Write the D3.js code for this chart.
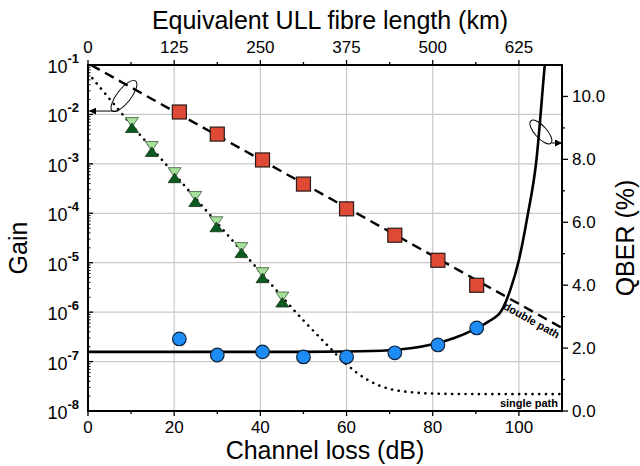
<!DOCTYPE html>
<html>
<head>
<meta charset="utf-8">
<script src="https://cdn.jsdelivr.net/npm/d3@7"></script>
<style>
  body { margin: 0; background: #fff; }
  svg text { font-family: "Liberation Sans", Arial, sans-serif; fill: #000; }
</style>
</head>
<body>
<div id="chart"></div>
<script>
// measured points (same channel losses for double path gain and QBER)
const lossDb = [21.2, 30, 40.5, 50, 60, 71.2, 81.2, 90.2];
const gainDouble = [1.12e-2, 4.0e-3, 1.2e-3, 3.9e-4, 1.23e-4, 3.6e-5, 1.12e-5, 3.5e-6];
const qberMeas = [2.29, 1.78, 1.88, 1.72, 1.72, 1.85, 2.10, 2.64];

const lossSingle = [10.2, 14.8, 20.1, 24.9, 29.8, 35.6, 40.5, 45.1];
const gainSingle = [6.1e-3, 2.0e-3, 5.9e-4, 1.94e-4, 6.0e-5, 1.8e-5, 5.6e-6, 1.8e-6];

// model curves
const doubleFitLoss = [0.7, 110];
const doubleFitGain = [1e-1, 4.8e-7];
const singleFitLoss = [0, 10, 20, 30, 40, 50, 55, 60, 65, 70, 75, 80, 90, 110];
const singleFitGain = [0.069, 6.3e-3, 6.3e-4, 6.3e-5, 6.5e-6, 6.8e-7, 2.4e-7, 8.8e-8, 4.2e-8, 2.8e-8, 2.4e-8, 2.25e-8, 2.2e-8, 2.2e-8];
const qberFitLoss = [0, 50, 60, 70, 80, 85, 90, 93, 96, 98, 100, 102, 104, 106, 107];
const qberFit = [1.88, 1.88, 1.89, 1.93, 2.12, 2.32, 2.62, 2.85, 3.2, 3.85, 4.8, 6.2, 7.9, 11, 12.5];

// ticks
const lossTicks = [0, 20, 40, 60, 80, 100];
const lossMinor = [10, 30, 50, 70, 90];
const kmTicks = [0, 125, 250, 375, 500, 625];
const kmMinor = [62.5, 187.5, 312.5, 437.5, 562.5];
const gainExps = [-8, -7, -6, -5, -4, -3, -2, -1];
const qberTicks = [0, 2, 4, 6, 8, 10];
const qberMinor = [1, 3, 5, 7, 9];

const width = 640, height = 466;
const margin = { top: 65, right: 78, bottom: 55, left: 88 };

const svg = d3.select("#chart").append("svg")
    .attr("width", width)
    .attr("height", height);

const x = d3.scaleLinear().domain([0, 110]).range([margin.left, width - margin.right]);
const xTop = d3.scaleLinear().domain([0, 110 * 6.25]).range([margin.left, width - margin.right]);
const y = d3.scaleLog().domain([1e-8, 1e-1]).range([height - margin.bottom, margin.top]);
const yR = d3.scaleLinear().domain([0, 11]).range([height - margin.bottom, margin.top]);

const x0 = margin.left, x1 = width - margin.right, y0 = height - margin.bottom, y1 = margin.top;

svg.append("defs").append("clipPath").attr("id", "plot")
    .append("rect").attr("x", x0).attr("y", y1).attr("width", x1 - x0).attr("height", y0 - y1);

const defs = svg.select("defs");
defs.append("marker").attr("id", "arrow")
    .attr("viewBox", "0 0 10 10").attr("refX", 10).attr("refY", 5)
    .attr("markerWidth", 9).attr("markerHeight", 7).attr("orient", "auto")
    .attr("markerUnits", "userSpaceOnUse")
    .append("path").attr("d", "M0,0L10,5L0,10z").attr("fill", "#000");

// grid
const grid = svg.append("g").attr("stroke", "#c8c8c8").attr("stroke-width", 1.2);
grid.selectAll("line.v").data(lossTicks.slice(1)).enter().append("line")
    .attr("x1", d => x(d)).attr("x2", d => x(d)).attr("y1", y0).attr("y2", y1);
grid.selectAll("line.h").data(gainExps.slice(1, -1)).enter().append("line")
    .attr("y1", d => y(Math.pow(10, d))).attr("y2", d => y(Math.pow(10, d)))
    .attr("x1", x0).attr("x2", x1);

// lines
const plot = svg.append("g").attr("clip-path", "url(#plot)");

const gainLine = d3.line().x(d => x(d[0])).y(d => y(d[1]));
plot.append("path")
    .datum(doubleFitLoss.map((d, i) => [d, doubleFitGain[i]]))
    .attr("d", gainLine)
    .attr("fill", "none").attr("stroke", "#000").attr("stroke-width", 2.4)
    .attr("stroke-dasharray", "10,6");

plot.append("path")
    .datum(singleFitLoss.map((d, i) => [d, singleFitGain[i]]))
    .attr("d", gainLine.curve(d3.curveMonotoneX))
    .attr("fill", "none").attr("stroke", "#000").attr("stroke-width", 2.6)
    .attr("stroke-linecap", "round")
    .attr("stroke-dasharray", "0.1,6.6");

plot.append("path")
    .datum(qberFitLoss.map((d, i) => [d, qberFit[i]]))
    .attr("d", d3.line().x(d => x(d[0])).y(d => yR(d[1])).curve(d3.curveMonotoneX))
    .attr("fill", "none").attr("stroke", "#000").attr("stroke-width", 2.6);

// single path markers: hourglass of two triangles
const single = lossSingle.map((d, i) => [d, gainSingle[i]]);
const tri = svg.append("g");
tri.selectAll("path.down").data(single).enter().append("path")
    .attr("d", d => {
        const cx = x(d[0]), cy = y(d[1]);
        return `M${cx - 6.5},${cy - 7.5}L${cx + 6.5},${cy - 7.5}L${cx},${cy + 2}Z`;
    })
    .attr("fill", "#a6e09a").attr("stroke", "#3c5a3c").attr("stroke-width", 0.8);
tri.selectAll("path.up").data(single).enter().append("path")
    .attr("d", d => {
        const cx = x(d[0]), cy = y(d[1]);
        return `M${cx - 6.5},${cy + 7.5}L${cx + 6.5},${cy + 7.5}L${cx},${cy - 2}Z`;
    })
    .attr("fill", "#0b5a20").attr("stroke", "#1a331a").attr("stroke-width", 0.8);

// double path markers
svg.append("g").selectAll("rect").data(lossDb).enter().append("rect")
    .attr("x", d => x(d) - 7).attr("y", (d, i) => y(gainDouble[i]) - 7)
    .attr("width", 14).attr("height", 14)
    .attr("fill", "#de4a36").attr("stroke", "#2a1a18").attr("stroke-width", 1.2);

// QBER markers
svg.append("g").selectAll("circle").data(lossDb).enter().append("circle")
    .attr("cx", d => x(d)).attr("cy", (d, i) => yR(qberMeas[i]))
    .attr("r", 6.8)
    .attr("fill", "#1e8cf5").attr("stroke", "#10243a").attr("stroke-width", 1.2);

// frame
svg.append("rect").attr("x", x0).attr("y", y1).attr("width", x1 - x0).attr("height", y0 - y1)
    .attr("fill", "none").attr("stroke", "#000").attr("stroke-width", 2);

const ticks = svg.append("g").attr("stroke", "#000").attr("stroke-width", 1.3);
// bottom
ticks.selectAll("line.b").data(lossTicks).enter().append("line")
    .attr("x1", d => x(d)).attr("x2", d => x(d)).attr("y1", y0).attr("y2", y0 + 5);
ticks.selectAll("line.bm").data(lossMinor).enter().append("line")
    .attr("x1", d => x(d)).attr("x2", d => x(d)).attr("y1", y0).attr("y2", y0 + 3);
// top
ticks.selectAll("line.t").data(kmTicks).enter().append("line")
    .attr("x1", d => xTop(d)).attr("x2", d => xTop(d)).attr("y1", y1).attr("y2", y1 - 5);
ticks.selectAll("line.tm").data(kmMinor).enter().append("line")
    .attr("x1", d => xTop(d)).attr("x2", d => xTop(d)).attr("y1", y1).attr("y2", y1 - 3);
// right
ticks.selectAll("line.r").data(qberTicks).enter().append("line")
    .attr("y1", d => yR(d)).attr("y2", d => yR(d)).attr("x1", x1).attr("x2", x1 + 6);
ticks.selectAll("line.rm").data(qberMinor).enter().append("line")
    .attr("y1", d => yR(d)).attr("y2", d => yR(d)).attr("x1", x1).attr("x2", x1 + 3);
// left (inside)
ticks.selectAll("line.l").data(gainExps).enter().append("line")
    .attr("y1", d => y(Math.pow(10, d))).attr("y2", d => y(Math.pow(10, d)))
    .attr("x1", x0).attr("x2", x0 + 5);
const minorGain = [];
gainExps.slice(0, -1).forEach(e => { for (let k = 2; k < 10; k++) minorGain.push(k * Math.pow(10, e)); });
ticks.selectAll("line.lm").data(minorGain).enter().append("line")
    .attr("y1", d => y(d)).attr("y2", d => y(d))
    .attr("x1", x0).attr("x2", x0 + 2.5).attr("stroke-width", 1);

// tick labels
svg.append("g").selectAll("text").data(lossTicks).enter().append("text")
    .attr("x", d => x(d)).attr("y", y0 + 22).attr("text-anchor", "middle")
    .attr("font-size", 17).text(d => d);
svg.append("g").selectAll("text").data(kmTicks).enter().append("text")
    .attr("x", d => xTop(d)).attr("y", y1 - 12).attr("text-anchor", "middle")
    .attr("font-size", 17).text(d => d);
svg.append("g").selectAll("text").data(qberTicks).enter().append("text")
    .attr("x", x1 + 10).attr("y", d => yR(d) + 6).attr("text-anchor", "start")
    .attr("font-size", 17).text(d => d3.format(".1f")(d));
const gl = svg.append("g").selectAll("text").data(gainExps).enter().append("text")
    .attr("x", x0 - 9).attr("y", d => y(Math.pow(10, d)) + 8).attr("text-anchor", "end")
    .attr("font-size", 18);
gl.append("tspan").text("10");
gl.append("tspan").attr("dy", -10).attr("font-size", 13).attr("font-weight", "bold").text(d => "-" + Math.abs(d));

// axis titles
svg.append("text").attr("x", 325).attr("y", 459).attr("text-anchor", "middle")
    .attr("font-size", 25).text("Channel loss (dB)");
svg.append("text").attr("x", 330).attr("y", 29).attr("text-anchor", "middle")
    .attr("font-size", 25).text("Equivalent ULL fibre length (km)");
svg.append("text").attr("transform", "translate(27,248) rotate(-90)").attr("text-anchor", "middle")
    .attr("font-size", 25).text("Gain");
svg.append("text").attr("transform", "translate(634,238) rotate(-90)").attr("text-anchor", "middle")
    .attr("font-size", 25).text("QBER (%)");

// curve labels
const ang = Math.atan2(y(doubleFitGain[1]) - y(doubleFitGain[0]), x(doubleFitLoss[1]) - x(doubleFitLoss[0])) * 180 / Math.PI;
svg.append("text").attr("transform", `translate(${x(102.5)},${y(8.5e-7) + 8}) rotate(${ang})`)
    .attr("text-anchor", "middle").attr("font-size", 11).attr("font-weight", "bold").text("double path");
svg.append("text").attr("x", x1 - 4).attr("y", y0 - 4).attr("text-anchor", "end")
    .attr("font-size", 11).attr("font-weight", "bold").text("single path");

// axis indicators (ellipse + arrow)
const ann = svg.append("g").attr("fill", "none").attr("stroke", "#000").attr("stroke-width", 1);
ann.append("ellipse").attr("rx", 19).attr("ry", 7)
    .attr("transform", `translate(${x(8.35)},${y(0.0236)}) rotate(-52)`);
ann.append("line").attr("x1", x(7)).attr("x2", x0 + 1)
    .attr("y1", y(0.0117)).attr("y2", y(0.0117)).attr("marker-end", "url(#arrow)");
ann.append("ellipse").attr("rx", 15).attr("ry", 6)
    .attr("transform", `translate(${x(105.1)},${yR(8.87)}) rotate(48)`);
ann.append("line").attr("x1", x(107.6)).attr("x2", x1)
    .attr("y1", yR(8.52)).attr("y2", yR(8.52)).attr("marker-end", "url(#arrow)");
</script>
</body>
</html>
